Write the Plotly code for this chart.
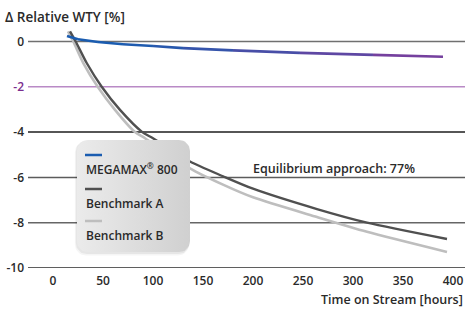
import math
import plotly.graph_objects as go

# ---------------- data ----------------
megamax_hours = [14, 25, 45, 70, 100, 130, 180, 247, 320, 390]
megamax_wty = [0.24, 0.10, -0.02, -0.12, -0.20, -0.29, -0.39, -0.50, -0.59, -0.67]

bench_a_hours = [17, 22.7, 33.7, 48.7, 67, 89.3, 100, 137, 170, 200, 264, 314, 394]
bench_a_wty = [0.45, 0.0, -0.95, -2.0, -3.02, -4.0, -4.27, -5.3, -5.95, -6.5, -7.4, -8.0, -8.72]

bench_b_hours = [15, 20.3, 30.3, 44.7, 62, 82, 92, 137, 170, 200, 264, 314, 394]
bench_b_wty = [0.45, 0.0, -0.95, -2.0, -3.02, -4.0, -4.27, -5.6, -6.32, -6.88, -7.75, -8.4, -9.29]

y_ticks = [0, -2, -4, -6, -8, -10]
y_tick_labels = ["0", "-2", "-4", "-6", "-8", "-10"]
x_ticks = [0, 50, 100, 150, 200, 250, 300, 350, 400]
series_names = ["MEGAMAX<sup>®</sup> 800", "Benchmark A", "Benchmark B"]
annotation_text = "Equilibrium approach: 77%"

# ---------------- layout geometry ----------------
W, H = 465, 313
ML, MT = 28, 20
PW, PH = 437, 248
MR = W - ML - PW
MB = H - MT - PH
X_RANGE = [-25, 412]
Y_RANGE = [-10, 0.95]

def px_to_data(px, py):
    x = X_RANGE[0] + (px - ML) / PW * (X_RANGE[1] - X_RANGE[0])
    y = Y_RANGE[1] - (py - MT) / PH * (Y_RANGE[1] - Y_RANGE[0])
    return x, y

def px_to_paper(px, py):
    return (px - ML) / PW, (MT + PH - py) / PH

FONT = "Open Sans"
BLUE = (26, 92, 176)
PURPLE = (128, 60, 156)
DARK = "#505050"
LIGHT = "#bebebe"
TXT = "#2a2a2a"

fig = go.Figure()

fig.add_trace(go.Scatter(x=bench_b_hours, y=bench_b_wty, mode="lines",
                         line=dict(color=LIGHT, width=2.6, shape="spline", smoothing=0.7),
                         showlegend=False, hoverinfo="skip"))
fig.add_trace(go.Scatter(x=bench_a_hours, y=bench_a_wty, mode="lines",
                         line=dict(color=DARK, width=2.4, shape="spline", smoothing=0.7),
                         showlegend=False, hoverinfo="skip"))

# MEGAMAX with blue->purple gradient (segment by segment)
h0, h1 = megamax_hours[0], megamax_hours[-1]
for i in range(len(megamax_hours) - 1):
    t = ((megamax_hours[i] + megamax_hours[i + 1]) / 2 - h0) / (h1 - h0)
    t = max(0.0, min(1.0, (t - 0.15) / 0.85))
    c = tuple(int(round(BLUE[k] + (PURPLE[k] - BLUE[k]) * t)) for k in range(3))
    fig.add_trace(go.Scatter(x=megamax_hours[i:i + 2], y=megamax_wty[i:i + 2], mode="lines",
                             line=dict(color="rgb(%d,%d,%d)" % c, width=2.6),
                             showlegend=False, hoverinfo="skip"))

def rounded_rect(x0, y0, x1, y1, r, n=8):
    pts = []
    corners = [(x1 - r, y0 + r, -90, 0), (x1 - r, y1 - r, 0, 90),
               (x0 + r, y1 - r, 90, 180), (x0 + r, y0 + r, 180, 270)]
    for cx, cy, a0, a1 in corners:
        for j in range(n + 1):
            a = math.radians(a0 + (a1 - a0) * j / n)
            pts.append((cx + r * math.cos(a), cy + r * math.sin(a)))
    pts.append(pts[0])
    xs, ys = zip(*[px_to_data(px, py) for px, py in pts])
    return list(xs), list(ys)

for off, alpha in [(3.5, 0.04), (2, 0.06)]:
    sx, sy = rounded_rect(77 - off * 0.6, 140 + off * 0.3, 190 - off * 0.3, 252 + off, 11)
    fig.add_trace(go.Scatter(x=sx, y=sy, mode="lines", fill="toself",
                             fillcolor="rgba(0,0,0,%g)" % alpha, line=dict(width=0),
                             showlegend=False, hoverinfo="skip"))
bx, by = rounded_rect(77, 140, 190, 252, 11)
fig.add_trace(go.Scatter(x=bx, y=by, mode="lines", fill="toself",
                         fillgradient=dict(type="horizontal",
                                           colorscale=[[0, "#ebebeb"], [1, "#d0d0d0"]]),
                         line=dict(width=0), showlegend=False, hoverinfo="skip"))

shapes = []
grid_colors = ["#707070", "#b98ac6", "#1e1e1e", "#5c5c5c", "#666666", "#2a2a2a"]
for v, col in zip(y_ticks, grid_colors):
    shapes.append(dict(type="line", xref="paper", x0=0, x1=1, yref="y", y0=v, y1=v,
                       line=dict(color=col, width=1.5), layer="below"))

legend_colors = ["rgb(%d,%d,%d)" % BLUE, DARK, LIGHT]
legend_line_y = [155, 189, 221]
legend_text_y = [169, 203, 235]
for col, ly in zip(legend_colors, legend_line_y):
    x0, y0 = px_to_paper(85, ly)
    x1, _ = px_to_paper(102, ly)
    shapes.append(dict(type="line", xref="paper", yref="paper", x0=x0, x1=x1, y0=y0, y1=y0,
                       line=dict(color=col, width=2.5), layer="above"))

def note(text, px, py, anchor="left", size=12):
    ax, ay = px_to_paper(px, py)
    return dict(text=text, xref="paper", yref="paper", x=ax, y=ay,
                xanchor=anchor, yanchor="middle", showarrow=False, borderpad=0,
                font=dict(family=FONT, size=size, color=TXT, weight=600))

annotations = [note(name, 85, ty) for name, ty in zip(series_names, legend_text_y)]
annotations.append(note(annotation_text, 252, 168, size=12.5))
annotations.append(note("Δ Relative WTY [%]", 4, 17, size=13.5))
annotations.append(note("Time on Stream [hours]", 464, 299, anchor="right", size=12.5))

tick_text = [('<span style="color:#7b2d8e">%s</span>' % t) if t == "-2" else t
             for t in y_tick_labels]

fig.update_layout(
    width=W, height=H,
    margin=dict(l=ML, r=MR, t=MT, b=MB, pad=0),
    paper_bgcolor="white", plot_bgcolor="white",
    showlegend=False,
    shapes=shapes, annotations=annotations,
    xaxis=dict(range=X_RANGE, tickvals=x_ticks, showgrid=False, zeroline=False,
               showline=False, ticks="", ticklabelstandoff=4,
               tickfont=dict(family=FONT, size=12, color=TXT, weight=600)),
    yaxis=dict(range=Y_RANGE, tickvals=y_ticks, ticktext=tick_text, showgrid=False,
               zeroline=False, showline=False, ticks="", ticklabelstandoff=3,
               tickfont=dict(family=FONT, size=12, color=TXT, weight=600)),
)

# remove the default page margin so the figure fills the 465x313 window exactly
fig.write_html("out.html",
               config={"displayModeBar": False, "staticPlot": True},
               post_script="document.body.style.margin='0';document.body.style.overflow='hidden';")
